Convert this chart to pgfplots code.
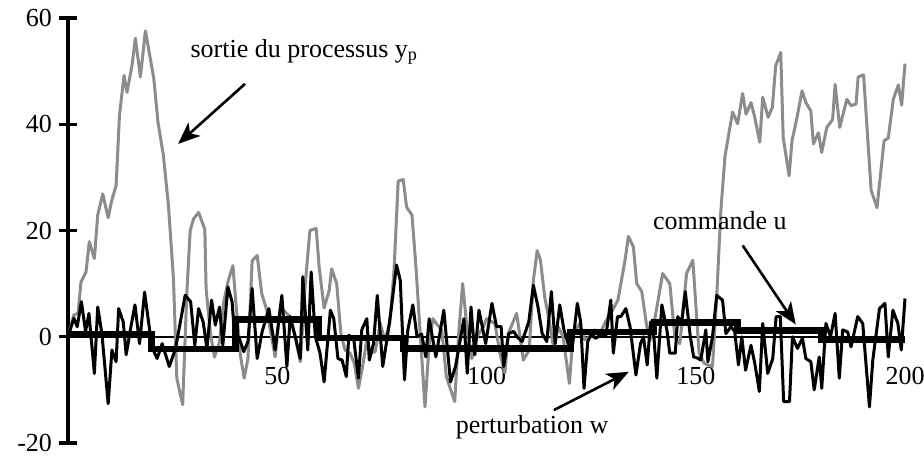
\documentclass[border=0pt]{standalone}
\usepackage{fontspec}
\setmainfont{Liberation Serif}
\usepackage{pgfplots}
\pgfplotsset{compat=1.18}
\usetikzlibrary{arrows.meta}
\definecolor{greyline}{RGB}{140,140,140}
\begin{document}
\begin{tikzpicture}
\begin{axis}[
  name=ax,
  scale only axis,
  width=418.5pt, height=212.5pt,
  xmin=0, xmax=200, ymin=-20, ymax=60,
  axis x line*=middle, axis y line*=left,
  xtick={50,100,150,200}, xticklabels={\textrm{50},\textrm{100},\textrm{150},\textrm{200}},
  ytick={-20,0,20,40,60}, yticklabels={\textrm{-20},\textrm{0},\textrm{20},\textrm{40},\textrm{60}},
  tick align=center,
  major tick length=9pt,
  xtick style={draw=none},
  ytick style={line width=1.6pt, black},
  x axis line style={line width=1.2pt},
  y axis line style={line width=1.6pt},
  tick label style={font=\fontsize{13}{15}\selectfont},
  xticklabel style={yshift=-7pt},
  clip=false,
]
% sortie du processus y_p
\addplot[greyline, line width=1.5pt, line join=round] coordinates {
(0,0) (1.4,4.1) (2.4,4.4) (3.1,10.3) (4.3,12.2) (5.1,17.9) (6.3,14.7) (7.1,22.9) (8.3,26.9) (9.6,22.4) (10.4,25.5) (11.5,28.5) (12.3,41.7) (13.4,49.2) (14.1,46.0) (15.3,51.1) (16.1,56.2) (17.3,48.9) (18.5,57.6) (20.5,48.6) (21.5,40.4) (22.8,34.1) (24.0,24.7) (25.2,10.9) (26.0,-7.8) (27.4,-12.8) (28.4,8.4) (29.2,20.0) (30.0,22.2) (31.2,23.4) (32.7,20.2) (33.0,9.0) (34.0,0.9) (35.0,-3.8) (36.2,-1.0) (37.2,6.5) (38.2,10.3) (39.4,13.4) (40.1,6.5) (41.2,-3.5) (42.1,-7.8) (43.0,-4.1) (44.0,14.3) (45.2,15.3) (46.3,8.1) (47.5,5.0) (49.5,-3.8) (50.7,5.3) (51.5,5.0) (53.0,3.8) (54.3,0) (55.5,-4.7) (56.7,10.0) (57.8,20.0) (59.3,20.4) (60.0,13.2) (61.2,5.4) (62.4,8.7) (63.0,12.8) (64.2,10.0) (65.2,0.6) (66.2,-2.5) (67.4,-3.1) (68.4,-5.0) (69.4,-9.7) (70.4,-5.6) (71.5,0) (72.2,-3.1) (73.4,-2.8) (74.6,2.5) (75.7,-0.6) (76.9,2.5) (77.9,12.5) (78.9,29.3) (80.1,29.6) (80.9,24.4) (82.2,22.9) (83.2,12.5) (84.0,2.5) (85.3,-13.2) (86.2,-2.5) (87.2,3.4) (88.0,2.5) (89.3,1.3) (90.4,-7.5) (92.4,-12.2) (93.3,0) (94.3,10.0) (95.3,1.9) (96.5,-4.1) (97.7,0) (99.3,1.9) (100,3.4) (102,2.5) (103.2,-3.1) (104.4,-6.8) (105.2,0.6) (107.2,4.4) (108.8,-4.4) (110.2,-2.5) (111.2,10.6) (112.1,16.2) (112.9,14.4) (113.9,7.5) (115.1,2.5) (116.1,-2.5) (117.1,1.9) (118.3,0) (119.8,-8.8) (120.7,0.6) (122.3,2.5) (123.5,-0.6) (124.7,0) (125.9,1.3) (127.1,0.6) (128.6,3.1) (130.1,5.0) (131.4,6.9) (133.1,14.4) (133.9,18.9) (135.1,16.9) (135.9,10.0) (137.1,8.5) (138.3,1.9) (139.1,-0.6) (139.9,1.9) (142.1,11.9) (143.8,10.0) (145.0,0) (146.2,-1.3) (147.8,11.9) (149.3,14.4) (150.8,-3.1) (152,-5.0) (154,-5.6) (155,7.5) (156,23.8) (157,34.1) (158.8,42.3) (160,40.1) (161.2,45.8) (162,41.9) (163.2,44.1) (164.1,41.3) (165.3,36.6) (166,45.1) (167.3,41.3) (168.3,43.2) (169.1,51.0) (170.3,53.5) (170.9,37.5) (172.3,30.3) (173,36.9) (174.2,41.3) (175.4,46.3) (176.3,44.1) (177.5,42.5) (178.1,36.3) (179.3,38.4) (180.1,34.7) (181.3,39.4) (182.7,40.9) (183.3,47.5) (184.4,39.4) (186.1,44.7) (187.1,43.5) (188.3,43.8) (188.8,48.9) (190.1,49.3) (191.9,27.6) (193.3,24.3) (195,36.9) (196,37.4) (197.2,44.7) (198.4,47.4) (199.2,43.6) (200,51.4)
};
% perturbation w
\addplot[black, line width=1.5pt, line join=round] coordinates {
(0,0) (1.4,3.5) (2.2,1.9) (3.2,6.6) (4.2,1.0) (5.0,4.4) (6.3,-6.9) (7.1,5.6) (8.1,0.6) (9.6,-12.6) (10.5,-2.5) (11.5,-4.7) (12.1,5.3) (13.2,2.8) (13.9,-3.4) (14.9,1.3) (16.0,6.0) (17.1,-1.3) (18.3,8.4) (19.5,1.3) (20.2,-2.2) (21.3,-4.1) (22.5,-1.3) (24.2,-5.6) (25.7,-2.2) (28.0,7.8) (29.3,6.6) (30.3,-1.6) (31.2,5.3) (32.3,2.8) (33.2,-2.2) (34.3,6.9) (35.2,2.2) (36.2,5.6) (37.0,-1.6) (38.2,9.4) (39.2,6.6) (40.0,-1.6) (40.8,0) (42.0,-2.8) (43.0,-0.9) (44.0,9.1) (45.2,-4.1) (46.4,1.0) (48.0,5.3) (49.5,-2.5) (51.1,7.8) (52.3,-5.6) (53.1,3.8) (54.3,0) (55.5,-4.1) (56.1,11.3) (57.3,-2.5) (58.1,12.2) (59.1,0) (60.2,-3.0) (61.2,-8.5) (62.7,5.0) (63.5,3.4) (64.5,-4.1) (65.5,-4.4) (66.5,-7.5) (67.1,0.3) (68.3,-0.6) (69.4,-7.8) (70.2,1.3) (71.4,3.4) (72.0,-4.4) (73.0,-1.3) (73.9,7.8) (75.2,-5.6) (76.2,-0.6) (77.2,5.0) (78.5,13.5) (79.4,10.6) (80.4,-8.1) (81.2,1.3) (82.4,6.0) (83.4,0) (84.5,0.5) (85.5,-3.8) (86.3,3.4) (87.9,-3.8) (89.8,5.0) (91.4,-8.5) (92.6,-5.6) (94.6,3.4) (95.4,-6.9) (96.3,5.6) (97.2,-3.4) (98.2,5.0) (99.8,-1.3) (101.3,6.3) (102.4,1.9) (103.5,1.9) (104.1,-5.6) (105.3,0.6) (106.5,1.0) (107.3,0) (108.5,-0.9) (110.1,2.8) (111.2,9.7) (112.3,5.6) (113.3,0.6) (114.4,-0.9) (115.5,8.5) (116.4,-1.3) (117.5,6.0) (118.5,1.3) (119.5,-1.3) (120.5,-2.0) (121.7,6.3) (122.5,2.8) (123.3,-9.7) (124.2,-0.9) (125.1,0.6) (126.0,-0.3) (127.3,0.3) (128.5,0) (129.7,6.9) (130.3,-3.1) (131.3,3.8) (132.1,3.8) (133.3,5.3) (134.3,1.9) (135.7,-7.2) (136.8,-1.3) (137.5,0) (138.4,-5.3) (139.2,2.8) (140.0,0) (140.7,-7.8) (141.9,6.0) (143.1,1.3) (143.8,-3.1) (145.1,-3.1) (145.7,3.8) (146.6,2.5) (147.5,8.5) (148.7,0) (149.5,-3.8) (150.4,-4.0) (151.2,-4.4) (152.4,1.3) (152.9,-4.7) (154,0) (155.0,7.8) (156.4,6.9) (157.2,0.6) (158.4,1.9) (159.3,1.0) (160.2,-5.3) (161,0) (161.9,-6.3) (163.2,-1.6) (164.1,-5.0) (165.2,-10.3) (166.0,2.5) (167.2,-6.9) (168.4,-4.1) (169.2,3.8) (170.2,3.8) (171.0,-12.2) (172.4,-12.2) (173.1,0) (174.3,-2.2) (175.5,-0.3) (176.3,-4.1) (177.5,-4.7) (178.3,-10.0) (179.5,-3.8) (180.1,-9.7) (181.1,2.5) (182.2,0) (183.3,4.4) (184.3,-7.8) (185.1,1.3) (186.3,0.9) (187.1,-1.9) (188.7,3.8) (189.9,2.5) (190.7,-5.3) (191.5,-13.2) (192.3,-4.4) (193.9,5.3) (195.2,6.3) (196.0,-3.8) (197.1,5.0) (198.3,2.5) (199.1,-2.5) (200,7.2)
};
% commande u
\addplot[black, line width=3.3pt, line join=miter] coordinates {
(0,0.5) (20,0.5) (20,-2.3) (40,-2.3) (40,3.3) (60,3.3) (60,-0.2) (80,-0.2) (80,-2.2) (120,-2.2) (120,0.9) (140,0.9) (140,2.7) (160,2.7) (160,1.2) (180,1.2) (180,-0.6) (200,-0.6)
};
% annotations
\node[anchor=base west, inner sep=0, font=\fontsize{13}{15}\selectfont] at (axis cs:29.2,52.6) {sortie du processus y\textsubscript{p}};
\node[anchor=base west, inner sep=0, font=\fontsize{13}{15}\selectfont] at (axis cs:139.7,20.1) {commande u};
\node[anchor=base west, inner sep=0, font=\fontsize{13}{15}\selectfont] at (axis cs:92.6,-18.2) {perturbation w};
\draw[line width=1.3pt, -{Stealth[length=11pt, width=9pt, inset=3pt]}] (axis cs:42.3,47.6) -- (axis cs:26.3,36.3);
\draw[line width=1.3pt, -{Stealth[length=11pt, width=9pt, inset=3pt]}] (axis cs:161.2,17.2) -- (axis cs:173.9,2.3);
\draw[line width=1.3pt, -{Stealth[length=11pt, width=9pt, inset=3pt]}] (axis cs:116.1,-13.8) -- (axis cs:134.0,-6.6);
\end{axis}
\pgfresetboundingbox
\path ([xshift=-34pt,yshift=-6.5pt]ax.south west) rectangle ([xshift=9.5pt,yshift=9pt]ax.north east);
\end{tikzpicture}
\end{document}
